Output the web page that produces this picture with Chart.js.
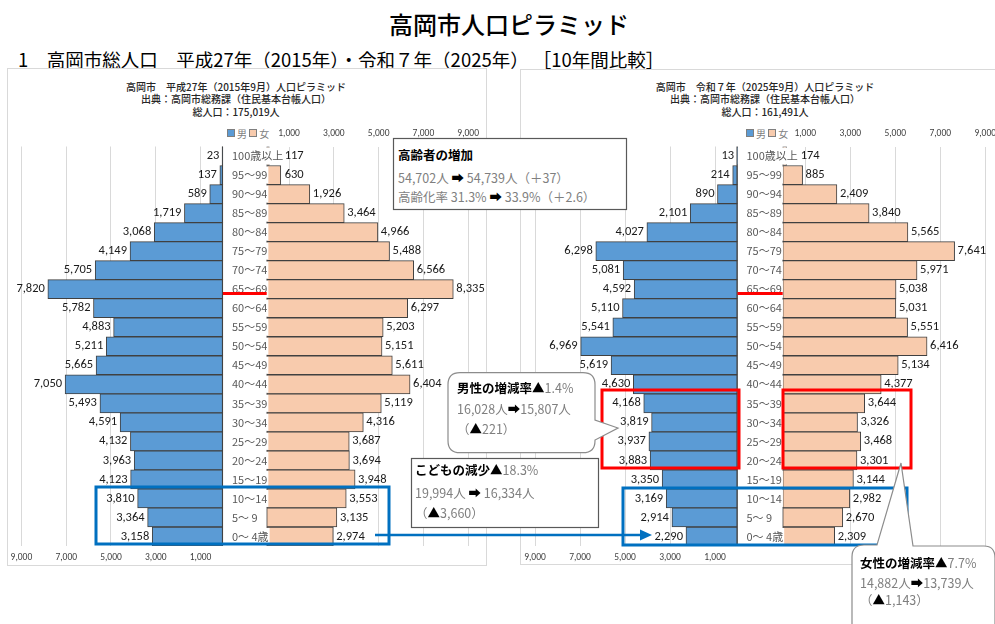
<!DOCTYPE html>
<html><head><meta charset="utf-8">
<script src="https://cdn.jsdelivr.net/npm/chart.js@4.4.1/dist/chart.umd.min.js"></script>
<style>
html,body{margin:0;padding:0;background:#fff;width:995px;height:624px;overflow:hidden;position:relative;font-family:"Noto Sans CJK JP",sans-serif;}
.abs{position:absolute;white-space:nowrap;}
canvas{position:absolute;}
.panel{position:absolute;border:1px solid #d9d9d9;box-sizing:border-box;}
.ptitle{position:absolute;width:400px;text-align:center;font-size:10px;line-height:12.3px;color:#262626;font-weight:500;}
.leg{position:absolute;font-size:10px;line-height:12px;color:#7f7f7f;}
.sq{display:inline-block;width:6px;height:6px;border:1px solid #7f7f7f;margin-right:2px;vertical-align:1px;}
.co{position:absolute;white-space:nowrap;font-size:12.5px;line-height:16px;color:#7f7f7f;z-index:5;}
.co b{color:#000;font-weight:700;font-size:12.5px;}
.k{color:#000;}
</style></head><body>
<div class="abs" style="left:0;width:1018px;text-align:center;top:10px;font-size:24px;line-height:28px;font-weight:500;color:#000;">高岡市人口ピラミッド</div>
<div class="abs" style="left:18px;top:47px;font-size:18.5px;line-height:24px;font-weight:400;color:#000;">1　高岡市総人口　平成27年（2015年）・令和７年（2025年） ［10年間比較］</div>

<div class="panel" style="left:7px;top:68px;width:480px;height:498px;"></div>
<div class="panel" style="left:520px;top:69px;width:490px;height:496px;"></div>

<div class="ptitle" style="left:36px;top:81px;">高岡市　平成27年（2015年9月）人口ピラミッド<br>出典：高岡市総務課（住民基本台帳人口）<br>総人口：175,019人</div>
<div class="ptitle" style="left:565px;top:81px;">高岡市　令和７年（2025年9月）人口ピラミッド<br>出典：高岡市総務課（住民基本台帳人口）<br>総人口：161,491人</div>

<div class="leg" style="left:227px;top:128px;"><span class="sq" style="background:#5B9BD5"></span>男 <span class="sq" style="background:#F8CBAD"></span>女</div>
<div class="leg" style="left:746px;top:128px;"><span class="sq" style="background:#5B9BD5"></span>男 <span class="sq" style="background:#F8CBAD"></span>女</div>

<canvas id="c2015" width="478" height="450" style="left:8px;top:120px;"></canvas>
<canvas id="c2025" width="490" height="450" style="left:520px;top:120px;"></canvas>

<svg width="995" height="624" style="position:absolute;left:0;top:0;z-index:4;overflow:visible">
  <rect x="96" y="487" width="293" height="57" fill="none" stroke="#0070C0" stroke-width="3"/>
  <rect x="623" y="488" width="284" height="57" fill="none" stroke="#0070C0" stroke-width="3"/>
  <line x1="375" y1="535" x2="643" y2="535" stroke="#0070C0" stroke-width="2.5"/>
  <polygon points="640,529.5 652,535 640,540.5" fill="#0070C0"/>
  <rect x="602" y="390" width="137" height="78" fill="none" stroke="#FF0000" stroke-width="3"/>
  <rect x="783" y="390" width="128" height="78" fill="none" stroke="#FF0000" stroke-width="3"/>
  <rect x="393.5" y="138.5" width="233" height="71" fill="#fff" stroke="#595959" stroke-width="1.2"/>
  <path d="M460,372.7 H583 Q595,372.7 595,384.7 V420 L618,428 L595,440 V440.7 Q595,452.7 583,452.7 H460 Q448,452.7 448,440.7 V384.7 Q448,372.7 460,372.7 Z" fill="#fff" stroke="#8c8c8c" stroke-width="1.2"/>
  <rect x="411.5" y="458.5" width="187" height="69" fill="#fff" stroke="#595959" stroke-width="1.2"/>
  <path d="M852,640 V557 Q852,545 864,545 H877 L901,463 L913,546 H984 Q995,546 995,558 V640" fill="#fff" stroke="#8c8c8c" stroke-width="1.2"/>
</svg>

<div class="co" style="left:398px;top:147px;"><b>高齢者の増加</b></div>
<div class="co" style="left:398px;top:169.5px;">54,702人 <span class="k">➡</span> 54,739人（＋37）</div>
<div class="co" style="left:398px;top:189px;">高齢化率 31.3% <span class="k">➡</span> 33.9%（＋2.6）</div>

<div class="co" style="left:457px;top:380px;"><b>男性の増減率</b><span class="k">▲</span>1.4%</div>
<div class="co" style="left:457px;top:401px;">16,028人<span class="k">➡</span>15,807人</div>
<div class="co" style="left:457px;top:421px;">（<span class="k">▲</span>221）</div>

<div class="co" style="left:415px;top:462px;"><b>こどもの減少</b><span class="k">▲</span>18.3%</div>
<div class="co" style="left:415px;top:484.5px;">19,994人 <span class="k">➡</span> 16,334人</div>
<div class="co" style="left:415px;top:504.5px;">（<span class="k">▲</span>3,660）</div>

<div class="co" style="left:860px;top:555px;"><b>女性の増減率</b><span class="k">▲</span>7.7%</div>
<div class="co" style="left:860px;top:575px;">14,882人<span class="k">➡</span>13,739人</div>
<div class="co" style="left:860px;top:592px;">（<span class="k">▲</span>1,143）</div>

<script>
const ageGroups = ['100歳以上','95～99','90～94','85～89','80～84','75～79','70～74','65～69','60～64','55～59','50～54','45～49','40～44','35～39','30～34','25～29','20～24','15～19','10～14','5～ 9','0～ 4歳'];
const male2015 = [23,137,589,1719,3068,4149,5705,7820,5782,4883,5211,5665,7050,5493,4591,4132,3963,4123,3810,3364,3158];
const female2015 = [117,630,1926,3464,4966,5488,6566,8335,6297,5203,5151,5611,6404,5119,4316,3687,3694,3948,3553,3135,2974];
const male2025 = [13,214,890,2101,4027,6298,5081,4592,5110,5541,6969,5619,4630,4168,3819,3937,3883,3350,3169,2914,2290];
const female2025 = [174,885,2409,3840,5565,7641,5971,5038,5031,5551,6416,5134,4377,3644,3326,3468,3301,3144,2982,2670,2309];
const axisTicks = [1000,3000,5000,7000,9000];
const seniorIndex = 7;

const fmt = v => Math.round(v).toLocaleString('en-US');
const PPP = 0.0225;
const TOP_H = 26.5, BOTTOM_H = 24;

function makePyramid(id, geo, male, female){
  const g = geo.gap/2/PPP;
  const min = (geo.left - geo.center)/PPP;
  const max = (geo.left + geo.width - geo.center)/PPP;
  const barStyle = {borderColor:'#404040', borderWidth:1, borderSkipped:false, grouped:false, categoryPercentage:1, barPercentage:1, xAxisID:'xm', yAxisID:'y'};
  const tickFont = {family:'Carlito, Lato, sans-serif', size:9.5};
  const plugin = {
    id:'pyr',
    afterDatasetsDraw(chart){
      const ctx = chart.ctx, a = chart.chartArea;
      const xs = chart.scales.xm, ys = chart.scales.y;
      const x0m = xs.getPixelForValue(-g), x0f = xs.getPixelForValue(g);
      const rowH = ys.getPixelForValue(1) - ys.getPixelForValue(0);
      ctx.save();
      ctx.strokeStyle = '#404040'; ctx.lineWidth = 1;
      ctx.beginPath(); ctx.moveTo(x0m - 0.5, a.top); ctx.lineTo(x0m - 0.5, a.bottom); ctx.stroke();
      ctx.font = '11px "Noto Sans CJK JP"'; ctx.textBaseline = 'middle'; ctx.textAlign = 'left';
      ageGroups.forEach((lab, i) => {
        const y = ys.getPixelForValue(i);
        const w = ctx.measureText(lab).width;
        ctx.fillStyle = '#fff';
        ctx.fillRect(x0m + 8, y - rowH/2 + 1, w + 2, rowH - 2);
        ctx.fillStyle = '#595959';
        ctx.fillText(lab, x0m + 9, y);
      });
      ctx.font = '12.5px Carlito, Lato, sans-serif'; ctx.fillStyle = '#1a1a1a';
      male.forEach((v, i) => {
        const y = ys.getPixelForValue(i);
        ctx.textAlign = 'right';
        ctx.fillText(fmt(v), xs.getPixelForValue(-(g + v)) - 3, y);
      });
      female.forEach((v, i) => {
        const y = ys.getPixelForValue(i);
        ctx.textAlign = 'left';
        ctx.fillText(fmt(v), Math.max(xs.getPixelForValue(g + v) + 3, x0f + 18), y);
      });
      const yr = ys.getPixelForValue(seniorIndex) + rowH*0.23;
      ctx.strokeStyle = '#FF0000'; ctx.lineWidth = 3;
      ctx.beginPath(); ctx.moveTo(x0m, yr); ctx.lineTo(x0f, yr); ctx.stroke();
      ctx.restore();
    }
  };
  return new Chart(document.getElementById(id), {
    type:'bar',
    data:{
      labels: ageGroups,
      datasets:[
        Object.assign({label:'男', data: male.map(v => [-(g + v), -g]), backgroundColor:'#5B9BD5'}, barStyle),
        Object.assign({label:'女', data: female.map(v => [g, g + v]), backgroundColor:'#F8CBAD'}, barStyle)
      ]
    },
    options:{
      indexAxis:'y', responsive:false, animation:false, events:[],
      layout:{padding:0},
      plugins:{legend:{display:false}, tooltip:{enabled:false}, title:{display:false}},
      scales:{
        y:{type:'category', display:false, offset:true},
        xm:{type:'linear', axis:'x', position:'bottom', min, max, bounds:'data',
            afterBuildTicks: s => { s.ticks = axisTicks.map(v => ({value: -(g + v)})); },
            afterFit: s => { s.height = BOTTOM_H; },
            ticks:{autoSkip:false, maxRotation:0, minRotation:0, padding:6, color:'#404040', font:tickFont, callback: v => fmt(-v - g)},
            grid:{color:'#d9d9d9', drawTicks:false}, border:{display:false}},
        xf:{type:'linear', axis:'x', position:'top', min, max, bounds:'data',
            afterBuildTicks: s => { s.ticks = axisTicks.map(v => ({value: g + v})); },
            afterFit: s => { s.height = TOP_H; },
            ticks:{autoSkip:false, maxRotation:0, minRotation:0, padding:7, color:'#404040', font:tickFont, callback: v => fmt(v - g)},
            grid:{color:'#d9d9d9', drawTicks:false}, border:{display:false}}
      }
    },
    plugins:[plugin]
  });
}

makePyramid('c2015', {left:8, width:478, center:246, gap:44}, male2015, female2015);
makePyramid('c2025', {left:520, width:490, center:760.1, gap:45.2}, male2025, female2025);
</script>
</body></html>
